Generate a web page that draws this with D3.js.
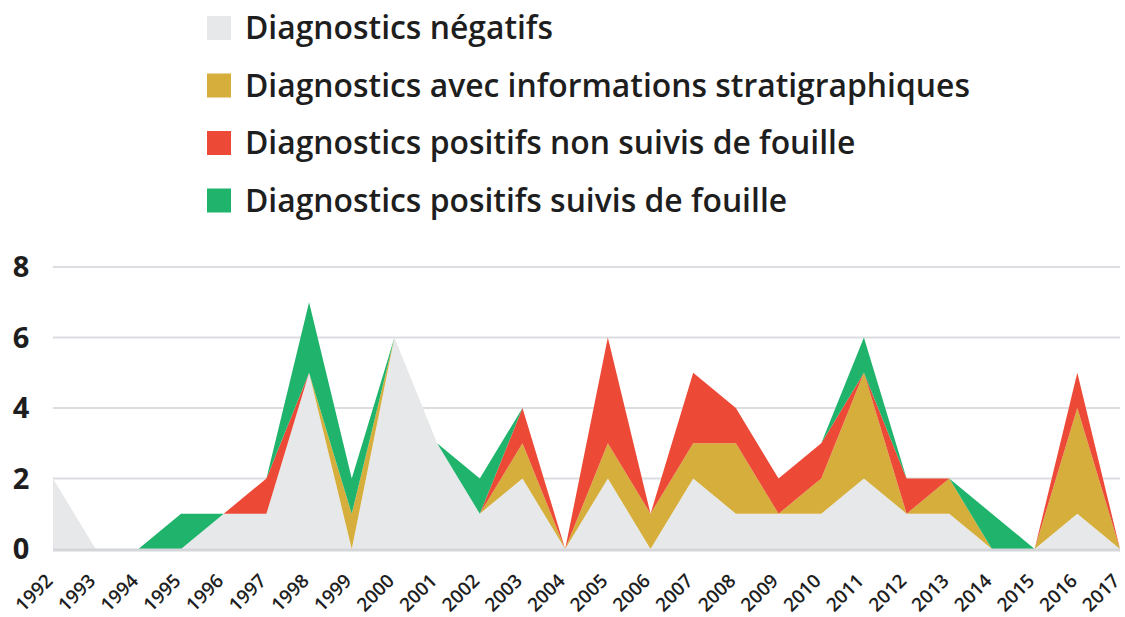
<!DOCTYPE html>
<html>
<head>
<meta charset="utf-8">
<script src="https://cdn.jsdelivr.net/npm/d3@7"></script>
<style>
  body { margin: 0; background: #fff; }
  text { font-family: "Open Sans", sans-serif; fill: #1e1e1e; }
</style>
</head>
<body>
<script>
"use strict";

// years on the x axis
var years = [1992, 1993, 1994, 1995, 1996, 1997, 1998, 1999, 2000, 2001, 2002, 2003, 2004,
             2005, 2006, 2007, 2008, 2009, 2010, 2011, 2012, 2013, 2014, 2015, 2016, 2017];

// one array per series
var negatifs   = [2, 0, 0, 0, 1, 1, 5, 0, 6, 3, 1, 2, 0, 2, 0, 2, 1, 1, 1, 2, 1, 1, 0, 0, 1, 0];
var strati     = [0, 0, 0, 0, 0, 0, 0, 1, 0, 0, 0, 1, 0, 1, 1, 1, 2, 0, 1, 3, 0, 1, 0, 0, 3, 0];
var nonSuivis  = [0, 0, 0, 0, 0, 1, 0, 0, 0, 0, 0, 1, 0, 3, 0, 2, 1, 1, 1, 0, 1, 0, 0, 0, 1, 0];
var suivis     = [0, 0, 0, 1, 0, 0, 2, 1, 0, 0, 1, 0, 0, 0, 0, 0, 0, 0, 0, 1, 0, 0, 1, 0, 0, 0];

var yTicks = [0, 2, 4, 6, 8];

var series = [
  {key: "neg",  label: "Diagnostics négatifs",                         color: "#e7e8ea", values: negatifs},
  {key: "str",  label: "Diagnostics avec informations stratigraphiques", color: "#d5ae3b", values: strati},
  {key: "non",  label: "Diagnostics positifs non suivis de fouille",     color: "#ec4a37", values: nonSuivis},
  {key: "sui",  label: "Diagnostics positifs suivis de fouille",         color: "#1fb36c", values: suivis}
];

var width = 1125, height = 617;

var svg = d3.select("body").append("svg")
    .attr("width", width)
    .attr("height", height);

// table for d3.stack
var table = years.map(function(y, i) {
  var row = {year: y};
  series.forEach(function(s) { row[s.key] = s.values[i]; });
  return row;
});

var x = d3.scaleLinear().domain([1992, 2017]).range([53, 1120]);
var y = d3.scaleLinear().domain([0, 8]).range([549, 267]);

// grid lines
svg.append("g").selectAll("line")
  .data(yTicks.filter(function(d) { return d > 0; }))
  .join("line")
    .attr("x1", x(1992)).attr("x2", x(2017))
    .attr("y1", function(d) { return y(d); })
    .attr("y2", function(d) { return y(d); })
    .attr("stroke", "#dcdde0")
    .attr("stroke-width", 2);

var stack = d3.stack().keys(series.map(function(s) { return s.key; }));
var layers = stack(table);

var area = d3.area()
    .x(function(d) { return x(d.data.year); })
    .y0(function(d) { return y(d[0]); })
    .y1(function(d) { return y(d[1]); });

svg.append("g").selectAll("path")
  .data(layers)
  .join("path")
    .attr("d", area)
    .attr("fill", function(d, i) { return series[i].color; });

// baseline
svg.append("line")
  .attr("x1", x(1992)).attr("x2", x(2017))
  .attr("y1", y(0) + 1).attr("y2", y(0) + 1)
  .attr("stroke", "#d4d6d9")
  .attr("stroke-width", 3);

// y labels
svg.append("g").selectAll("text")
  .data(yTicks)
  .join("text")
    .attr("x", 21)
    .attr("y", function(d) { return y(d); })
    .attr("dy", "0.36em")
    .attr("text-anchor", "middle")
    .style("font-size", "29px")
    .style("font-weight", 700)
    .text(function(d) { return d; });

// x labels, rotated
svg.append("g").selectAll("text")
  .data(years)
  .join("text")
    .attr("transform", function(d) { return "translate(" + (x(d) + 1) + ",582) rotate(-45)"; })
    .attr("text-anchor", "end")
    .style("font-size", "19px")
    .style("font-weight", 600)
    .text(function(d) { return d; });

// legend
var legend = svg.append("g");
var rows = legend.selectAll("g")
  .data(series)
  .join("g")
    .attr("transform", function(d, i) { return "translate(207," + (28 + i * 57.5) + ")"; });

rows.append("rect")
  .attr("x", 0).attr("y", -12)
  .attr("width", 24).attr("height", 24)
  .attr("fill", function(d) { return d.color; });

var labels = rows.append("text")
  .attr("x", 38)
  .attr("dy", "0.36em")
  .style("font-size", "28px")
  .style("font-weight", 600)
  .text(function(d) { return d.label; });

// fit the longest label to the width seen in the picture
var longest = d3.max(labels.nodes(), function(n) { return n.getComputedTextLength(); });
labels.style("font-size", (28 * 725 / longest) + "px");
</script>
</body>
</html>
